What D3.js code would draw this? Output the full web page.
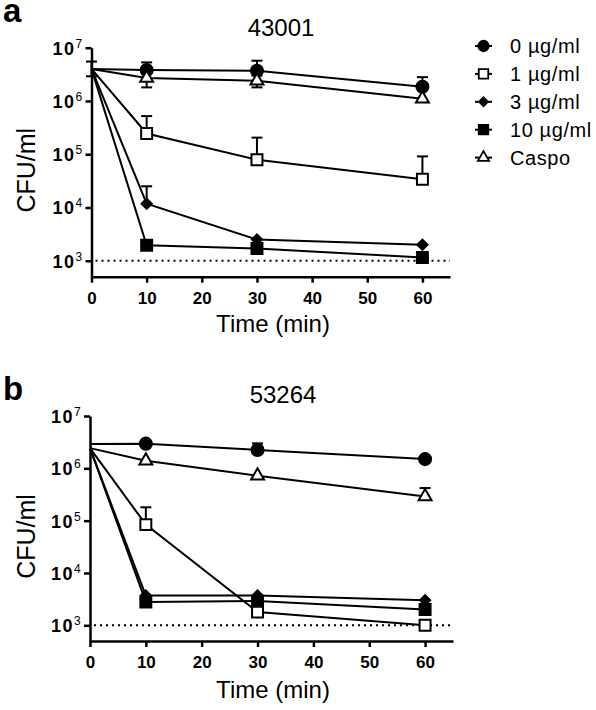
<!DOCTYPE html>
<html><head><meta charset="utf-8">
<script src="https://cdn.jsdelivr.net/npm/d3@7"></script>
<style>
body{margin:0;background:#fff;}
svg{display:block;font-family:"Liberation Sans",Arial,sans-serif;}
</style></head>
<body><svg id="c" width="596" height="710"></svg>
<script>
const times = [0, 10, 30, 60];
const xTicks = [0, 10, 20, 30, 40, 50, 60];
const yTicks = [1e3, 1e4, 1e5, 1e6, 1e7];
const yTickExp = ["3", "4", "5", "6", "7"];
const seriesNames = ["0 µg/ml", "1 µg/ml", "3 µg/ml", "10 µg/ml", "Caspo"];
const seriesSymbols = ["circle", "openSquare", "diamond", "square", "openTriangle"];

// Panel a: 43001
const a_0 = [4.0e6, 3.8e6, 3.7e6, 1.85e6];
const a_0_hi = [5.5e6, 5.3e6, 5.7e6, 2.8e6];
const a_0_lo = [2.9e6, null, null, null];
const a_1 = [4.0e6, 2.45e5, 7.9e4, 3.4e4];
const a_1_hi = [null, 5.2e5, 2.05e5, 9.1e4];
const a_3 = [4.0e6, 1.18e4, 2.5e3, 2.0e3];
const a_3_hi = [null, 2.5e4, null, null];
const a_10 = [4.0e6, 1.95e3, 1.7e3, 1.15e3];
const a_C = [4.0e6, 2.7e6, 2.4e6, 1.1e6];
const a_C_hi = [null, 3.2e6, 3.0e6, null];
const a_C_lo = [null, 1.8e6, 1.8e6, null];

// Panel b: 53264
const b_0 = [2.93e6, 2.96e6, 2.25e6, 1.5e6];
const b_0_hi = [null, null, 3.0e6, null];
const b_1 = [2.43e6, 8.4e4, 1.8e3, 1.0e3];
const b_1_hi = [null, 1.8e5, null, null];
const b_3 = [2.43e6, 3.7e3, 3.7e3, 3.0e3];
const b_10 = [2.43e6, 2.8e3, 2.9e3, 2.0e3];
const b_C = [2.43e6, 1.4e6, 7.2e5, 2.9e5];
const b_C_hi = [null, null, null, 4.2e5];

const limit = 1e3;

const svg = d3.select("#c");

function symPath(kind, scale) {
  scale = scale || 1;
  let type, size;
  if (kind === "circle") { type = d3.symbolCircle; size = 115; }
  else if (kind === "openSquare" || kind === "square") { type = d3.symbolSquare; size = 120; }
  else if (kind === "diamond") { type = d3.symbolSquare; size = 52; }
  else { type = d3.symbolTriangle; size = 72; }
  return d3.symbol().type(type).size(size * scale)();
}
function symRot(kind) { return kind === "diamond" ? " rotate(45)" : ""; }
function symFill(kind) { return (kind === "openSquare" || kind === "openTriangle") ? "#fff" : "#000"; }

function panel(cfg) {
  const g = svg.append("g");
  const x = d3.scaleLinear().domain([0, 65]).range([cfg.x0, cfg.x1]);
  const y = d3.scaleLog().domain([Math.pow(10, 2.7), 1e7]).range([cfg.yb, cfg.yt]);

  // panel letter
  g.append("text").attr("x", 3).attr("y", cfg.letterY).attr("font-size", 33).attr("font-weight", "bold").text(cfg.letter);
  // title
  g.append("text").attr("x", cfg.titleX).attr("y", cfg.titleY).attr("text-anchor", "middle").attr("font-size", 24).text(cfg.title);

  // dotted limit line
  g.append("line").attr("x1", x(0) + 4).attr("x2", x(65)).attr("y1", y(limit)).attr("y2", y(limit))
    .attr("stroke", "#000").attr("stroke-width", 2).attr("stroke-dasharray", "2,4");

  // axes
  const xa = g.append("g").attr("transform", `translate(0,${cfg.yb})`)
    .call(d3.axisBottom(x).tickValues(xTicks).tickSize(6).tickSizeOuter(0).tickFormat(d3.format("d")));
  xa.select(".domain").attr("stroke-width", 2.5);
  xa.selectAll(".tick line").attr("stroke-width", 2.5);
  xa.selectAll(".tick text").attr("font-size", 17).attr("font-weight", "bold").attr("font-family", "Liberation Sans, Arial, sans-serif").attr("dy", "1.05em");

  const ya = g.append("g").attr("transform", `translate(${cfg.x0},0)`)
    .call(d3.axisLeft(y).tickValues(yTicks).tickSize(6).tickSizeOuter(0).tickFormat(() => ""));
  ya.select(".domain").attr("stroke-width", 2.5);
  ya.selectAll(".tick line").attr("stroke-width", 2.5);
  ya.selectAll(".tick").each(function (d, i) {
    const t = d3.select(this).append("text").attr("x", -39).attr("y", 6.5).attr("text-anchor", "start")
      .attr("fill", "#000").attr("font-family", "Liberation Sans, Arial, sans-serif");
    t.append("tspan").attr("font-size", 18).attr("font-weight", "bold").attr("letter-spacing", 1.5).text("10");
    t.append("tspan").attr("font-size", 12).attr("dy", -7).text(yTickExp[i]);
  });

  // axis titles
  g.append("text").attr("x", cfg.xLabelX).attr("y", cfg.xLabelY).attr("text-anchor", "middle").attr("font-size", 24).text("Time (min)");
  g.append("text").attr("transform", `translate(35,${(cfg.yt + cfg.yb) / 2 + 8}) rotate(-90)`).attr("text-anchor", "middle").attr("font-size", 25).text("CFU/ml");

  const line = d3.line().x((d, i) => x(times[i])).y(d => y(d));
  cfg.series.forEach(s => {
    g.append("path").attr("d", line(s.v)).attr("fill", "none").attr("stroke", "#000").attr("stroke-width", 2);
  });
  // error bars
  cfg.series.forEach(s => {
    s.v.forEach((v, i) => {
      [s.hi, s.lo].forEach(arr => {
        if (!arr || arr[i] == null) return;
        const cx = x(times[i]);
        g.append("line").attr("x1", cx).attr("x2", cx).attr("y1", y(v)).attr("y2", y(arr[i])).attr("stroke", "#000").attr("stroke-width", 2);
        g.append("line").attr("x1", cx - 5.5).attr("x2", cx + 5.5).attr("y1", y(arr[i])).attr("y2", y(arr[i])).attr("stroke", "#000").attr("stroke-width", 2);
      });
    });
  });
  // markers
  cfg.series.forEach(s => {
    s.v.forEach((v, i) => {
      if (i === 0) return;
      g.append("path").attr("d", symPath(s.sym)).attr("transform", `translate(${x(times[i])},${y(v)})` + symRot(s.sym))
        .attr("fill", symFill(s.sym)).attr("stroke", "#000").attr("stroke-width", 2);
    });
  });
}

panel({
  letter: "a", letterY: 22, title: "43001", titleX: 281, titleY: 36,
  x0: 91.5, x1: 450, yt: 47.7, yb: 276.7, xLabelX: 273, xLabelY: 332,
  series: [
    { v: a_0, hi: a_0_hi, lo: a_0_lo, sym: seriesSymbols[0] },
    { v: a_1, hi: a_1_hi, sym: seriesSymbols[1] },
    { v: a_3, hi: a_3_hi, sym: seriesSymbols[2] },
    { v: a_10, sym: seriesSymbols[3] },
    { v: a_C, hi: a_C_hi, lo: a_C_lo, sym: seriesSymbols[4] }
  ]
});
panel({
  letter: "b", letterY: 400, title: "53264", titleX: 283, titleY: 403,
  x0: 90, x1: 453, yt: 416, yb: 641, xLabelX: 273, xLabelY: 698,
  series: [
    { v: b_0, hi: b_0_hi, sym: seriesSymbols[0] },
    { v: b_1, hi: b_1_hi, sym: seriesSymbols[1] },
    { v: b_3, sym: seriesSymbols[2] },
    { v: b_10, sym: seriesSymbols[3] },
    { v: b_C, hi: b_C_hi, sym: seriesSymbols[4] }
  ]
});

// legend
const lg = svg.append("g");
seriesNames.forEach((name, i) => {
  const yy = 46 + i * 27.9;
  lg.append("line").attr("x1", 475).attr("x2", 492).attr("y1", yy).attr("y2", yy).attr("stroke", "#000").attr("stroke-width", 2);
  lg.append("path").attr("d", symPath(seriesSymbols[i], 0.75)).attr("transform", `translate(483.5,${yy})` + symRot(seriesSymbols[i]))
    .attr("fill", symFill(seriesSymbols[i])).attr("stroke", "#000").attr("stroke-width", 1.8);
  lg.append("text").attr("x", 510).attr("y", yy + 7).attr("font-size", 20).attr("letter-spacing", 0.6).text(name);
});
</script></body></html>
